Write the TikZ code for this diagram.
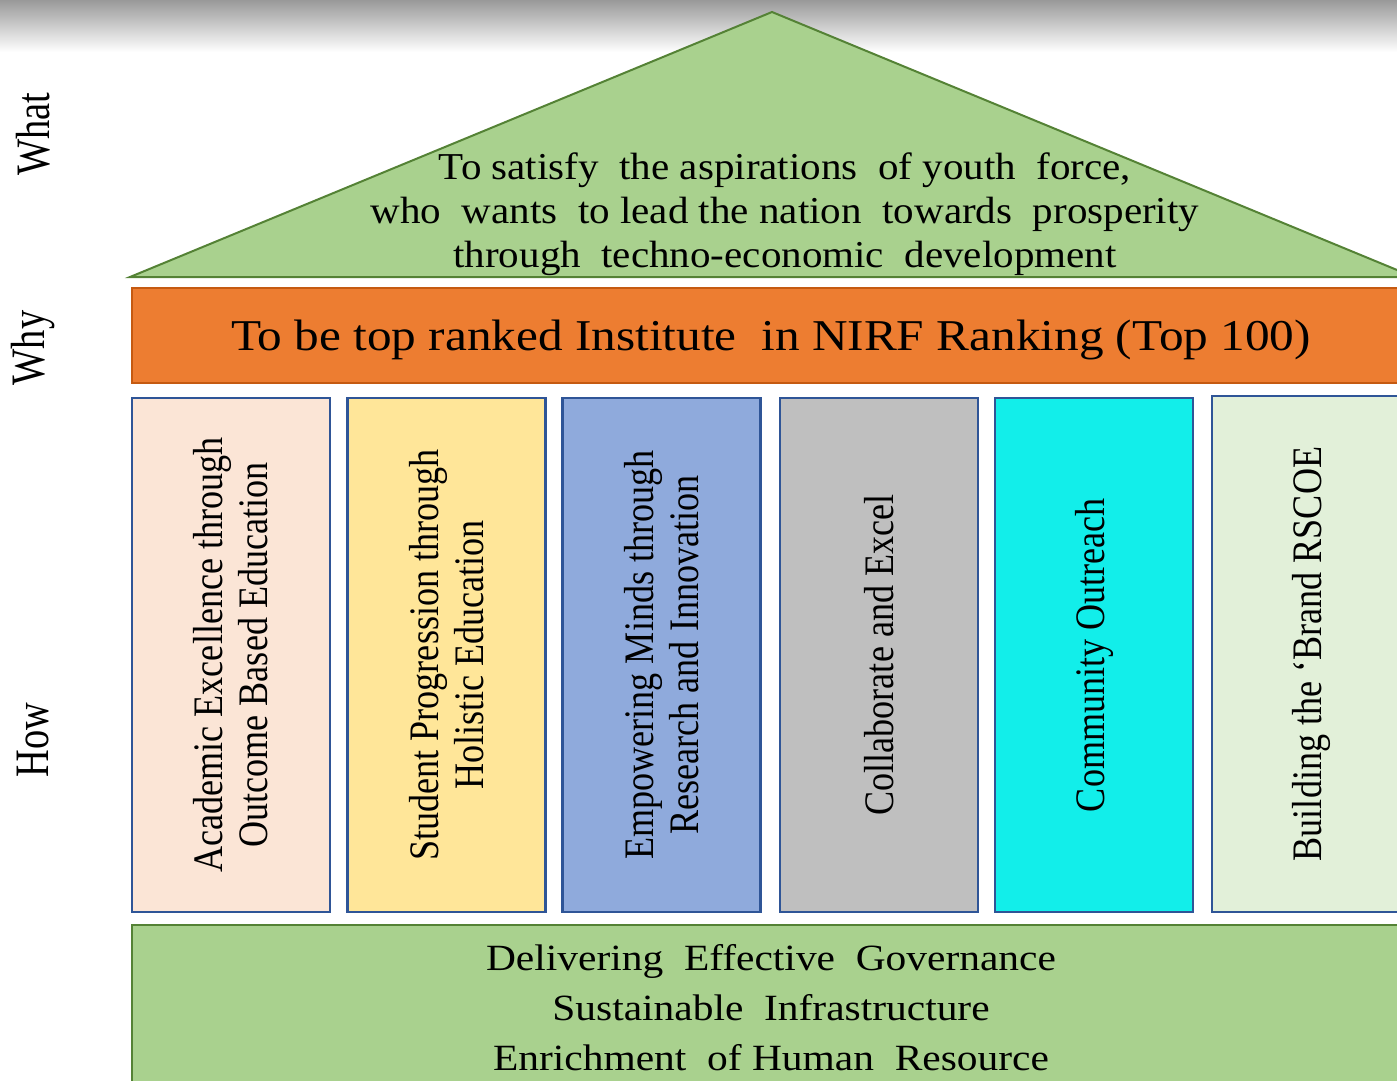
\documentclass[tikz,border=0pt]{standalone}
\usepackage{fontspec}
\setmainfont{Liberation Serif}
\newfontfamily\pillarfont[FakeStretch=0.86]{Liberation Serif}
\newfontfamily\sidefont[FakeStretch=0.8]{Liberation Serif}
\newfontfamily\widefont[FakeStretch=1.08]{Liberation Serif}
\newfontfamily\beamfont[FakeStretch=1.12]{Liberation Serif}

\definecolor{roofgreen}{HTML}{A9D18E}
\definecolor{roofedge}{HTML}{548235}
\definecolor{whyorange}{HTML}{ED7D31}
\definecolor{whyedge}{HTML}{C55A11}
\definecolor{pillaredge}{HTML}{2F5597}
\definecolor{pinkfill}{HTML}{FBE5D6}
\definecolor{yellowfill}{HTML}{FFE699}
\definecolor{bluefill}{HTML}{8FAADC}
\definecolor{grayfill}{HTML}{BFBFBF}
\definecolor{cyanfill}{HTML}{12EEEA}
\definecolor{mintfill}{HTML}{E2F0D9}

\begin{document}
\begin{tikzpicture}[x=0.5pt, y=-0.5pt]
    % Define the styles for each part of the house
    \tikzstyle{roof} = [fill=roofgreen, draw=roofedge, line width=1pt, line join=miter]
    \tikzstyle{beam} = [fill=whyorange, draw=whyedge, line width=1pt]
    \tikzstyle{base} = [fill=roofgreen, draw=roofedge, line width=1.2pt]
    \tikzstyle{pillar} = [rectangle, draw=pillaredge, line width=1.3pt, rotate=90, minimum width=257pt, minimum height=99pt, inner sep=0pt, align=center, font=\pillarfont\fontsize{21}{22.5}\selectfont]
    \tikzstyle{side} = [rotate=90, font=\sidefont\fontsize{24}{26}\selectfont]

    \useasboundingbox (0,0) rectangle (1397,1081);

    % Shadow at the top edge
    \shade [top color=black!40, bottom color=white] (0,0) rectangle (1397,52);

    % Roof: What
    \draw [roof] (130,277) -- (772,12) -- (1414,277) -- cycle;
    \node [align=center, font=\widefont\fontsize{19}{22}\selectfont, inner sep=0pt] (what) at (785,214) {
        To satisfy\ \ the aspirations\ \ of youth\ \ force,\\
        who\ \ wants\ \ to lead the nation\ \ towards\ \ prosperity\\
        through\ \ techno-economic\ \ development
    };

    % Beam: Why
    \node [beam, minimum width=639pt, minimum height=47.5pt, inner sep=0pt] (why) at (771,335.5) {};
    \node [font=\beamfont\fontsize{22}{24}\selectfont, inner sep=0pt] (whytext) at (771,340)
        {To be top ranked Institute\ \ in NIRF Ranking (Top 100)};

    % Pillars: How
    \node [pillar, fill=pinkfill] (p1) at (231,655) {Academic Excellence through\\Outcome Based Education};
    \node [pillar, fill=yellowfill] (p2) at (446.5,655) {Student Progression through\\Holistic Education};
    \node [pillar, fill=bluefill] (p3) at (661.5,655) {Empowering Minds through\\Research and Innovation};
    \node [pillar, fill=grayfill] (p4) at (879,655) {Collaborate and Excel};
    \node [pillar, fill=cyanfill] (p5) at (1094,655) {Community Outreach};
    \node [pillar, fill=mintfill, minimum width=258pt] (p6) at (1311,654) {Building the ‘Brand RSCOE};

    % Foundation
    \node [base, minimum width=639pt, minimum height=85pt, inner sep=0pt] (found) at (771,1010) {};
    \node [align=center, font=\beamfont\fontsize{18.5}{25}\selectfont, inner sep=0pt] (foundtext) at (771,1008) {
        Delivering\ \ Effective\ \ Governance\\
        Sustainable\ \ Infrastructure\\
        Enrichment\ \ of Human\ \ Resource
    };

    % Labels on the left
    \node [side] (lwhat) at (33,134) {What};
    \node [side] (lwhy) at (33,348) {Why};
    \node [side] (lhow) at (33,740) {How};
\end{tikzpicture}
\end{document}
